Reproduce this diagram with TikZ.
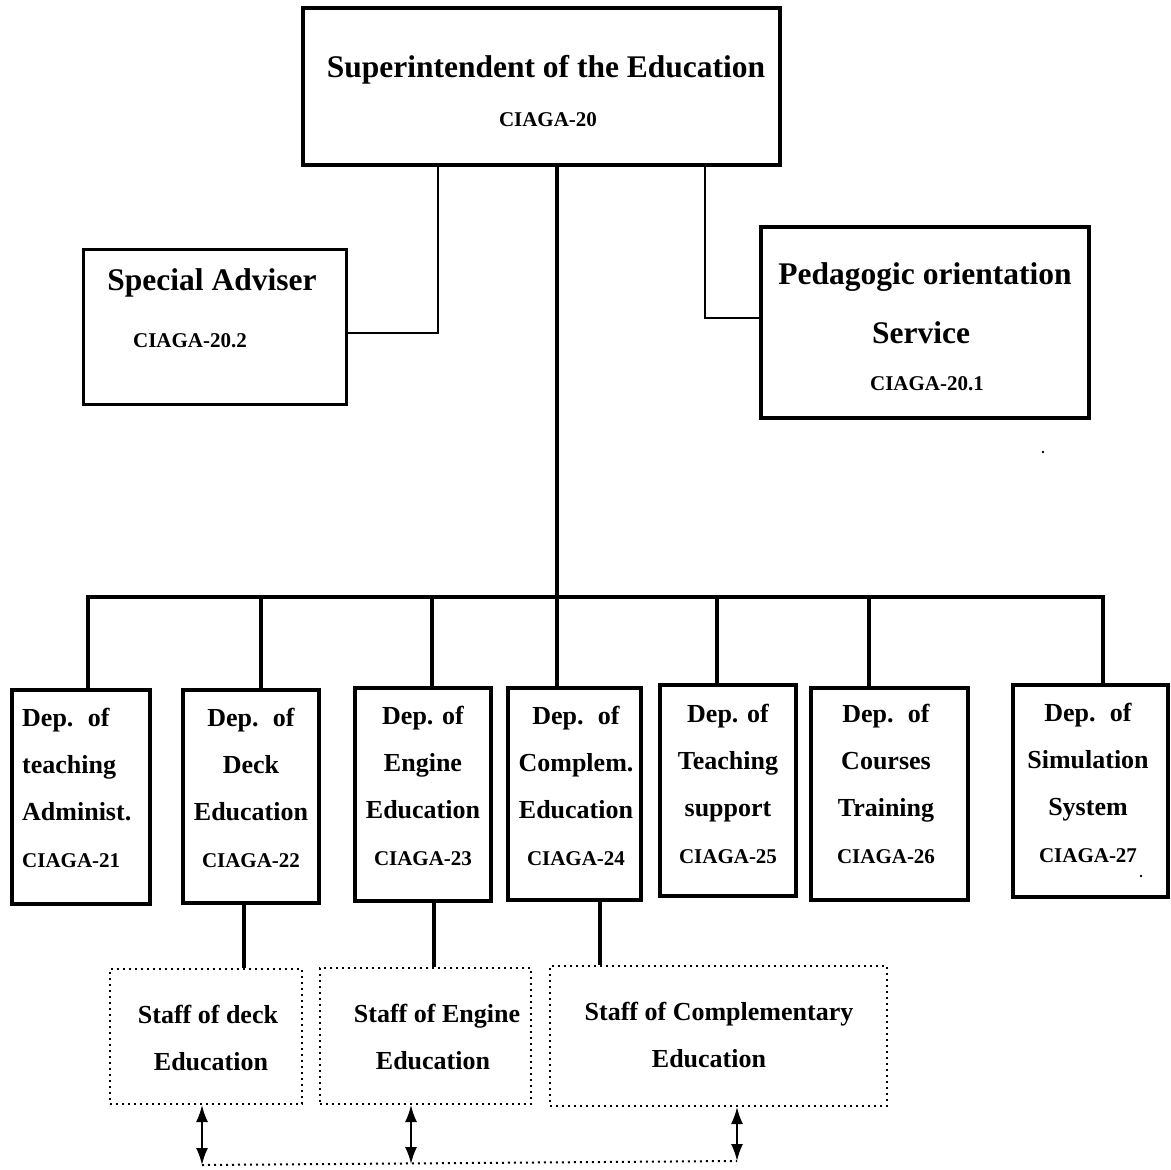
\documentclass[tikz,border=0pt]{standalone}
\usepackage{fontspec}
\setmainfont{Liberation Serif}
\usetikzlibrary{arrows.meta}
\newcommand\fbig{\fontsize{31.5}{37}\selectfont\bfseries}
\newcommand\fmid{\fontsize{26}{31}\selectfont\bfseries}
\newcommand\fsm{\fontsize{21}{25}\selectfont\bfseries}
\newcommand\wsp{\hspace{0.55em}}
\newcommand\deplines[5]{%
  \foreach \t [count=\j] in {#5}
    \node[txt, anchor=#2] (#1\j) at (#3, {#4+47*(\j-1)}) {\t};}
\begin{document}
\begin{tikzpicture}[x=1pt,y=-1pt,
  box/.style={draw, line width=4pt, inner sep=0pt},
  sbox/.style={draw, line width=3pt, inner sep=0pt},
  dbox/.style={draw, line width=2pt, dash pattern=on 2pt off 4pt, inner sep=0pt},
  txt/.style={inner sep=0pt, anchor=base, font=\fmid},
  trunk/.style={line width=4pt},
  thin/.style={line width=2pt},
  arr/.style={line width=2pt, {Latex[length=17pt,width=12pt]}-{Latex[length=17pt,width=12pt]}},
  dline/.style={line width=2pt, dash pattern=on 2pt off 4pt}]
\useasboundingbox (0,0) rectangle (1171,1170);

% top box
\node[box, minimum width=477pt, minimum height=157pt] (top) at (541.5,86.5) {};
\node[txt, font=\fbig] (topt) at (546,77) {Superintendent of the Education};
\node[txt, font=\fsm] (topc) at (548,126) {CIAGA-20};

% special adviser
\node[sbox, minimum width=263pt, minimum height=155pt] (sa) at (214.5,326.5) {};
\node[txt, font=\fbig] (sat) at (212,290) {Special Adviser};
\node[txt, font=\fsm] (sac) at (190,347) {CIAGA-20.2};

% pedagogic orientation
\node[box, minimum width=328pt, minimum height=191pt] (po) at (925,322.5) {};
\node[txt, font=\fbig] (pot1) at (925,284) {Pedagogic orientation};
\node[txt, font=\fbig] (pot2) at (921,343) {Service};
\node[txt, font=\fsm] (poc) at (927,390) {CIAGA-20.1};

% side connectors
\coordinate (L) at (438,333);
\coordinate (R) at (705,318);
\draw[thin] (L |- top.south) -- (L) -- (L -| sa.east);
\draw[thin] (R |- top.south) -- (R) -- (R -| po.west);

% departments
\node[box, minimum width=138pt, minimum height=214pt] (b1) at (81,797) {};
\node[box, minimum width=136pt, minimum height=213pt] (b2) at (251,796.5) {};
\node[box, minimum width=136pt, minimum height=213pt] (b3) at (423,794.5) {};
\node[box, minimum width=133pt, minimum height=212pt] (b4) at (574.5,794) {};
\node[box, minimum width=136pt, minimum height=211pt] (b5) at (728,790.5) {};
\node[box, minimum width=157pt, minimum height=212pt] (b6) at (889.5,794) {};
\node[box, minimum width=155pt, minimum height=212pt] (b7) at (1090.5,791) {};

\deplines{t1-}{base west}{22}{726}{Dep.\wsp of, teaching, Administ., {\fsm CIAGA-21}}
\deplines{t2-}{base}{251}{726}{Dep.\wsp of, Deck, Education, {\fsm CIAGA-22}}
\deplines{t3-}{base}{423}{724}{Dep. of, Engine, Education, {\fsm CIAGA-23}}
\deplines{t4-}{base}{576}{724}{Dep.\wsp of, Complem., Education, {\fsm CIAGA-24}}
\deplines{t5-}{base}{728}{722}{Dep. of, Teaching, support, {\fsm CIAGA-25}}
\deplines{t6-}{base}{886}{722}{Dep.\wsp of, Courses, Training, {\fsm CIAGA-26}}
\deplines{t7-}{base}{1088}{721}{Dep.\wsp of, Simulation, System, {\fsm CIAGA-27}}

% trunk and bus
\coordinate (bus) at (557,597);
\coordinate (j1) at (88,597);
\coordinate (j2) at (261,597);
\coordinate (j3) at (432,597);
\coordinate (j4) at (557,597);
\coordinate (j5) at (717,597);
\coordinate (j6) at (869,597);
\coordinate (j7) at (1103,597);
\draw[trunk] (top.south -| bus) -- (bus);
\draw[trunk, line cap=rect] (j1) -- (j7);
\foreach \i in {1,...,7} \draw[trunk] (j\i) -- (j\i |- b\i.north);

% staff boxes
\node[dbox, minimum width=192pt, minimum height=135pt] (s1) at (206,1036.5) {};
\node[dbox, minimum width=211pt, minimum height=136pt] (s2) at (425.5,1036) {};
\node[dbox, minimum width=337pt, minimum height=140pt] (s3) at (718.5,1036) {};
\node[txt] (s1a) at (208,1023) {Staff of deck};
\node[txt] (s1b) at (211,1070) {Education};
\node[txt] (s2a) at (437,1022) {Staff of Engine};
\node[txt] (s2b) at (433,1069) {Education};
\node[txt] (s3a) at (719,1020) {Staff of Complementary};
\node[txt] (s3b) at (709,1067) {Education};

\coordinate (k2) at (244,0);
\coordinate (k3) at (434,0);
\coordinate (k4) at (600,0);
\draw[trunk] (b2.south -| k2) -- (s1.north -| k2);
\draw[trunk] (b3.south -| k3) -- (s2.north -| k3);
\draw[trunk] (b4.south -| k4) -- (s3.north -| k4);

% bottom arrows
\coordinate (a1) at (202,1165);
\coordinate (a2) at (411,1164);
\coordinate (a3) at (737,1161);
\draw[arr] (s1.south -| a1) -- (a1);
\draw[arr] (s2.south -| a2) -- (a2);
\draw[arr] (s3.south -| a3) -- (a3);
\draw[dline] (a1) -- (a3);

% stray marks
\fill (1043,452) circle (1.3);
\fill (1141,876) circle (1.3);
\end{tikzpicture}
\end{document}
